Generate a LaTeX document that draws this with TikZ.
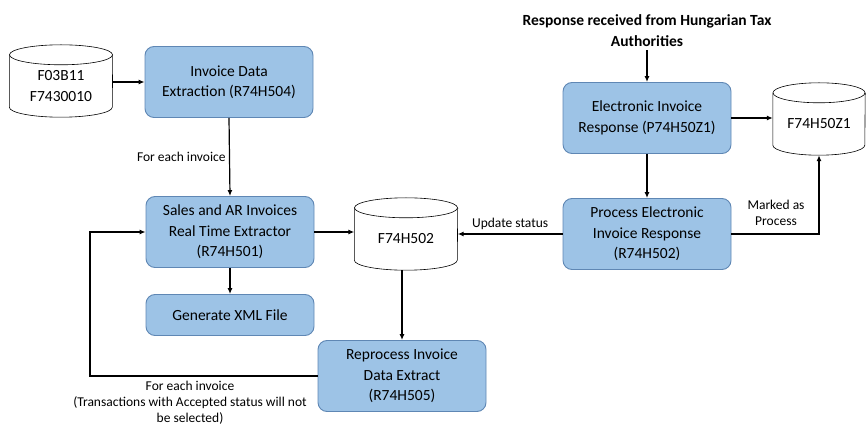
\documentclass[tikz,border=0pt]{standalone}
\usepackage{fontspec}
\setmainfont{Carlito}
\usepackage{tikz}
\usetikzlibrary{calc}
\usetikzlibrary{arrows.meta}
\usetikzlibrary{positioning}
\definecolor{boxfill}{RGB}{157,195,230}
\definecolor{boxline}{RGB}{95,135,180}
\tikzset{
  base/.style={align=center, font={\fontsize{15.5}{20.5}\selectfont}},
  proc/.style={base, draw=boxline, fill=boxfill, rounded corners=9pt, line width=0.9pt,
    minimum width=168pt, minimum height=71pt, inner sep=2pt},
  proc_small/.style={proc, minimum height=41pt},
  % store node is the body of a data table, the outline comes from \drawstore
  store/.style={base, minimum width=103pt, minimum height=62pt, inner sep=0pt},
  store_line/.style={draw, line width=0.6pt},
  notes/.style={align=center, font={\fontsize{13.5}{16}\selectfont}},
  % -------------------------------------------------
  % Connector line style
  norm/.style={-{Latex[length=6pt,width=5pt]}, draw, line width=1.2pt},
}
% outline of a table: #1 node name, #2 half width
\newcommand{\drawstore}[2]{%
  \draw [store_line] (#1.north) ellipse [x radius=#2pt, y radius=10pt];
  \draw [store_line] (#1.north west) -- ($(#1.south west)+(0,-10)$)
    arc [start angle=180, end angle=360, x radius=#2pt, y radius=10pt]
    -- (#1.north east);
}

\begin{document}
\begin{tikzpicture}[x=1pt, y=-1pt]
\useasboundingbox (0,0) rectangle (866,427);

% -------------------------------------------------
% Start by placing the nodes
\node [store] (db_in) at (61,86) {F03B11\\F7430010};
\node [proc] (extract) at (229,82) {Invoice Data\\Extraction (R74H504)};
\node [proc] (sales) at (230,232) {Sales and AR Invoices\\Real Time Extractor\\(R74H501)};
\node [proc_small] (xml) at (230,315) {Generate XML File};
\node [store] (f502) at (406,239) {F74H502};
\node [proc] (reprocess) at (402,376) {Reprocess Invoice\\Data Extract\\(R74H505)};

\node [base, font={\fontsize{15.5}{21}\selectfont\bfseries}, inner sep=3pt] (hungary) at (647,31)
  {Response received from Hungarian Tax\\Authorities};
\node [proc] (e_resp) at (647,118) {Electronic Invoice\\Response (P74H50Z1)};
\node [store, minimum width=92pt] (f50z1) at (819,124) {F74H50Z1};
\node [proc] (p_resp) at (647,234) {Process Electronic\\Invoice Response\\(R74H502)};

\drawstore{db_in}{51.5}
\drawstore{f502}{51.5}
\drawstore{f50z1}{46}

\coordinate (loop) at (90,376);

% connectors
\draw [norm] (db_in.east |- extract.west) -- (extract.west);
\draw [norm] (extract.south) -- node [notes, left, pos=0.5] {For each invoice} (sales.north);
\draw [norm] (sales.south) -- (xml.north);
\draw [norm] (sales.east) -- (sales.east -| f502.west);
\draw [norm] (f502.south -| reprocess.north) -- (reprocess.north);
\draw [norm] (reprocess.west) -- (loop) |- (sales.west);

\draw [norm] (hungary.south) -- (e_resp.north);
\draw [norm] (e_resp.east) -- (e_resp.east -| f50z1.west);
\draw [norm] (e_resp.south) -- (p_resp.north);
\draw [norm] (p_resp.west) -- node [notes, above] {Update status} (p_resp.west -| f502.east);
\draw [norm] (p_resp.east) -| (f50z1.south);

% notes
\node [notes] (loop_note) at (190,403) {For each invoice\\(Transactions with Accepted status will not\\be selected)};
\node [notes] (mark_note) at (776,213) {Marked as\\Process};

\end{tikzpicture}
\end{document}
